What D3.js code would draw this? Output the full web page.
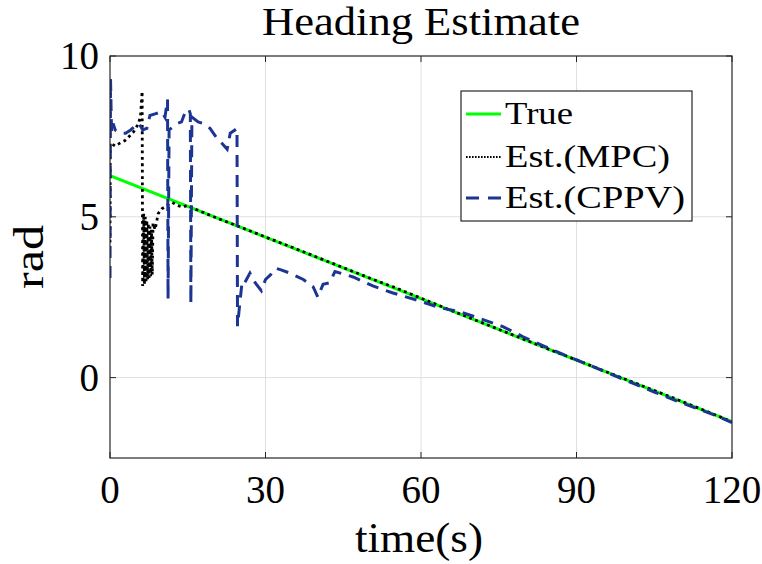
<!DOCTYPE html>
<html lang="en">
<script src="https://cdn.jsdelivr.net/npm/d3@7"></script>
<style>
  body { margin: 0; background: white; }
  text { font-family: "Liberation Serif", "Times New Roman", serif; fill: #000; }
</style>
<body>
<svg width="762" height="564" id="chart"></svg>
<script>
// true heading: straight line
var trueT = [0, 120];
var trueV = [6.28, -1.37];

// Est.(MPC)
var mpcT = [0, 0.05, 1, 2, 2.9, 4.5, 5.5, 5.9, 6.2, 6.3, 6.5, 6.65, 6.8, 6.95, 7.1, 7.25, 7.4, 7.55, 7.7, 7.85, 8.0, 8.15, 8.3, 8.7, 9.3, 10, 11, 12, 13, 14, 15, 16, 20, 25, 30, 35, 40, 45, 50, 55, 60, 65, 70, 75, 80, 85, 90, 95, 100, 105, 110, 115, 120];
var mpcV = [4.2, 7.3, 7.2, 7.3, 7.37, 7.63, 7.9, 8.15, 8.9, 2.85, 5.1, 2.9, 5.0, 3.0, 4.9, 3.05, 4.8, 3.1, 4.7, 3.15, 4.6, 3.2, 4.8, 4.6, 5.1, 5.25, 5.35, 5.45, 5.35, 5.3, 5.36, 5.27, 5.0, 4.69, 4.37, 4.06, 3.74, 3.42, 3.1, 2.8, 2.47, 2.14, 1.82, 1.5, 1.18, 0.86, 0.55, 0.23, -0.09, -0.4, -0.72, -1.04, -1.38];

// Est.(CPPV)
var cppvT = [0, 0.1, 0.3, 0.6, 1, 2, 3, 4, 5, 5.6, 6.3, 7.1, 7.7, 8.7, 10, 10.6, 11.1, 11.2, 11.4, 12.9, 13.8, 14.5, 15.2, 15.5, 15.6, 15.8, 17, 18, 19.3, 20.6, 21.8, 22.6, 23.2, 24.1, 24.5, 24.6, 25.1, 25.5, 26, 27, 28, 29.2, 30, 31, 32, 33, 34.7, 37.3, 39.2, 40.1, 41.1, 42.4, 43.4, 46.9, 50.7, 54.6, 59.2, 63.7, 67.5, 71.7, 75.9, 79.7, 83.6, 88, 95, 100, 105, 110, 116.4, 120];
var cppvV = [3.1, 9.3, 7.6, 7.9, 7.7, 7.6, 7.6, 7.7, 7.85, 7.9, 7.7, 7.75, 8.15, 8.2, 8.27, 8.1, 8.65, 2.45, 7.7, 7.9, 7.95, 8.25, 8.35, 8.2, 2.3, 8.1, 7.95, 7.9, 7.75, 7.45, 7.25, 7.1, 7.6, 7.7, 7.75, 1.6, 2.4, 3.0, 2.95, 3.25, 2.95, 2.7, 3.05, 3.2, 3.4, 3.35, 3.25, 3.05, 2.82, 2.5, 2.9, 2.95, 3.3, 3.13, 2.85, 2.63, 2.41, 2.17, 2.05, 1.82, 1.58, 1.27, 0.99, 0.68, 0.22, -0.12, -0.45, -0.77, -1.15, -1.4];

var xTicks = [0, 30, 60, 90, 120];
var yTicks = [0, 5, 10];

var svg = d3.select("#chart");
var pLeft = 110, pRight = 732, pTop = 56, pBottom = 458;

var x = d3.scaleLinear().domain([0, 120]).range([pLeft, pRight]);
var y = d3.scaleLinear().domain([-2.5, 10]).range([pBottom, pTop]);

svg.append("rect").attr("width", 762).attr("height", 564).attr("fill", "white");

// grid
svg.append("g").selectAll("line").data(xTicks.slice(1, -1)).enter().append("line")
  .attr("x1", d => x(d)).attr("x2", d => x(d)).attr("y1", pTop).attr("y2", pBottom)
  .attr("stroke", "#dfdfdf").attr("stroke-width", 1);
svg.append("g").selectAll("line").data(yTicks.slice(0, -1)).enter().append("line")
  .attr("y1", d => y(d)).attr("y2", d => y(d)).attr("x1", pLeft).attr("x2", pRight)
  .attr("stroke", "#dfdfdf").attr("stroke-width", 1);

svg.append("clipPath").attr("id", "clip").append("rect")
  .attr("x", pLeft).attr("y", pTop).attr("width", pRight - pLeft).attr("height", pBottom - pTop);

var line = d3.line().x(d => x(d[0])).y(d => y(d[1]));
var plot = svg.append("g").attr("clip-path", "url(#clip)");

plot.append("path").datum(d3.zip(trueT, trueV)).attr("d", line)
  .attr("fill", "none").attr("stroke", "#00ff00").attr("stroke-width", 3);
plot.append("path").datum(d3.zip(mpcT, mpcV)).attr("d", line)
  .attr("fill", "none").attr("stroke", "#000").attr("stroke-width", 2.8)
  .attr("stroke-dasharray", "2.8,3.6");
plot.append("path").datum(d3.zip(cppvT, cppvV)).attr("d", line)
  .attr("fill", "none").attr("stroke", "#1c3593").attr("stroke-width", 3)
  .attr("stroke-dasharray", "12,8");

// axes box with inward ticks
var ax = svg.append("g").attr("fill", "none").attr("stroke", "#262626");
ax.append("rect").attr("x", pLeft).attr("y", pTop).attr("width", pRight - pLeft).attr("height", pBottom - pTop)
  .attr("stroke-width", 1.2);
xTicks.forEach(function(t) {
  ax.append("line").attr("x1", x(t)).attr("x2", x(t)).attr("y1", pBottom).attr("y2", pBottom - 6);
  ax.append("line").attr("x1", x(t)).attr("x2", x(t)).attr("y1", pTop).attr("y2", pTop + 6);
});
yTicks.forEach(function(t) {
  ax.append("line").attr("y1", y(t)).attr("y2", y(t)).attr("x1", pLeft).attr("x2", pLeft + 6);
  ax.append("line").attr("y1", y(t)).attr("y2", y(t)).attr("x1", pRight).attr("x2", pRight - 6);
});

// tick labels
svg.append("g").selectAll("text").data(xTicks).enter().append("text")
  .attr("x", d => x(d)).attr("y", 503).attr("text-anchor", "middle")
  .style("font-size", "39px").text(d => d);
svg.append("g").selectAll("text").data(yTicks).enter().append("text")
  .attr("x", 99).attr("y", d => y(d) + 13).attr("text-anchor", "end")
  .style("font-size", "39px").text(d => d);

// title and axis labels
svg.append("text").attr("x", 421).attr("y", 35).attr("text-anchor", "middle")
  .attr("textLength", 318).attr("lengthAdjust", "spacingAndGlyphs")
  .style("font-size", "40px").text("Heading Estimate");
svg.append("text").attr("x", 419).attr("y", 552).attr("text-anchor", "middle")
  .attr("textLength", 128).attr("lengthAdjust", "spacingAndGlyphs")
  .style("font-size", "42px").text("time(s)");
svg.append("text").attr("transform", "translate(43," + ((pTop + pBottom) / 2) + ") rotate(-90)")
  .attr("text-anchor", "middle")
  .attr("textLength", 64).attr("lengthAdjust", "spacingAndGlyphs")
  .style("font-size", "43px").text("rad");

// legend
var names = ["True", "Est.(MPC)", "Est.(CPPV)"];
var widths = [68, 165, 180];
var leg = svg.append("g");
leg.append("rect").attr("x", 461).attr("y", 91).attr("width", 231).attr("height", 130)
  .attr("fill", "white").attr("stroke", "#262626").attr("stroke-width", 1.2);
var rowY = [114, 157, 198];
leg.append("line").attr("x1", 466).attr("x2", 501).attr("y1", rowY[0]).attr("y2", rowY[0])
  .attr("stroke", "#00ff00").attr("stroke-width", 3);
leg.append("line").attr("x1", 466).attr("x2", 501).attr("y1", rowY[1]).attr("y2", rowY[1])
  .attr("stroke", "#000").attr("stroke-width", 2.2).attr("stroke-dasharray", "1.6,1.4");
leg.append("line").attr("x1", 466).attr("x2", 501).attr("y1", rowY[2]).attr("y2", rowY[2])
  .attr("stroke", "#1c3593").attr("stroke-width", 3).attr("stroke-dasharray", "13,9");
names.forEach(function(n, i) {
  leg.append("text").attr("x", 505).attr("y", rowY[i] + 10)
    .attr("textLength", widths[i]).attr("lengthAdjust", "spacingAndGlyphs")
    .style("font-size", "31px").text(n);
});
</script>
</body>
</html>
